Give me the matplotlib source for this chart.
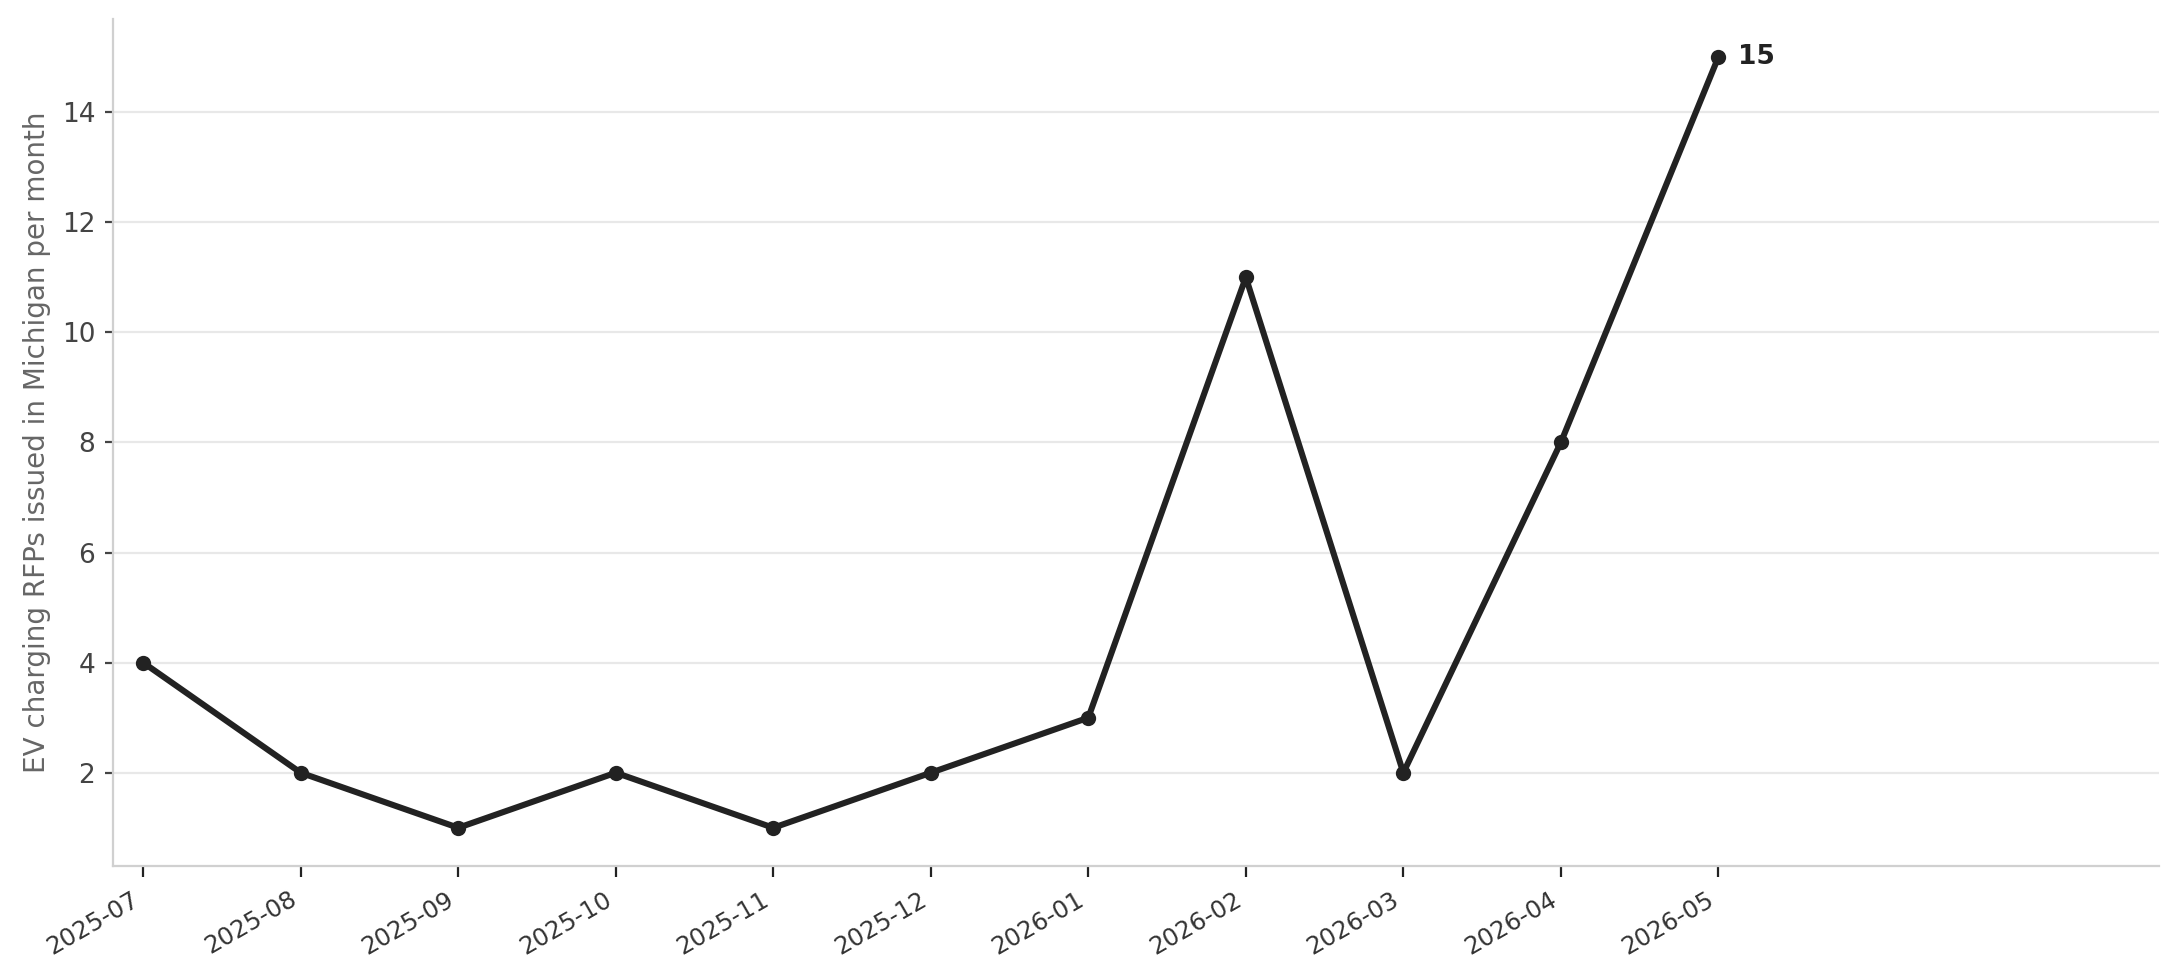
import matplotlib
matplotlib.use("Agg")
import matplotlib.pyplot as plt

# ---- data ----
months = ["2025-07", "2025-08", "2025-09", "2025-10", "2025-11", "2025-12",
          "2026-01", "2026-02", "2026-03", "2026-04", "2026-05"]
rfps = [4, 2, 1, 2, 1, 2, 3, 11, 2, 8, 15]

fig, ax = plt.subplots(figsize=(10.895, 4.9), dpi=200)
fig.subplots_adjust(left=0.052, right=0.991, top=0.981, bottom=0.116)

x = list(range(len(months)))
ax.plot(x, rfps, color="#222222", linewidth=2.2, marker="o", markersize=4.5, zorder=3)

ax.annotate(str(rfps[-1]), (x[-1], rfps[-1]), xytext=(7, 0), textcoords="offset points",
            ha="left", va="center", fontsize=9.5, fontweight="bold", color="#222222")

ax.set_xticks(x)
ax.set_xticklabels(months, rotation=30, ha="right", fontsize=8.8, color="#333333")
ax.set_xlim(-0.19, 12.8)
ax.margins(y=0.05)

ax.set_ylabel("EV charging RFPs issued in Michigan per month", fontsize=10.0,
              color="#666666")
ax.tick_params(axis="y", labelsize=9.5, labelcolor="#444444", length=3, color="#444444")
ax.tick_params(axis="x", length=4, color="#222222")

ax.grid(axis="y", color="#e8e8e8", linewidth=0.8)
ax.set_axisbelow(True)
for s in ["top", "right"]:
    ax.spines[s].set_visible(False)
for s in ["left", "bottom"]:
    ax.spines[s].set_color("#d0d0d0")
    ax.spines[s].set_linewidth(0.8)

fig.savefig("out.png", dpi=200)
